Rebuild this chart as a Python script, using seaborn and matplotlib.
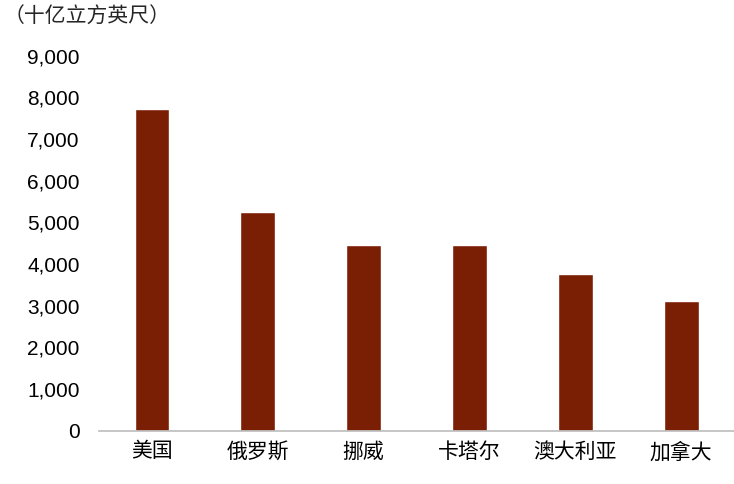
import matplotlib
matplotlib.use("Agg")
import matplotlib.pyplot as plt
import seaborn as sns
from matplotlib.ticker import FuncFormatter

countries = ["美国", "俄罗斯", "挪威", "卡塔尔", "澳大利亚", "加拿大"]
reserves = [7720, 5240, 4450, 4450, 3750, 3120]
unit_label = "（十亿立方英尺）"

sns.set_theme(style="white")
plt.rcParams['font.family'] = ['Liberation Sans', 'Noto Sans CJK SC', 'DejaVu Sans']

fig, ax = plt.subplots(figsize=(7.34, 4.84), dpi=100)
sns.barplot(x=countries, y=reserves, color="#7A1F03", width=0.33, saturation=1, ax=ax)

ax.set_ylim(0, 9000)
ax.set_yticks(range(0, 9001, 1000))
ax.yaxis.set_major_formatter(FuncFormatter(lambda v, p: f"{int(v):,}"))
ax.tick_params(axis="y", labelsize=15, length=0, colors="black", pad=14)
ax.tick_params(axis="x", labelsize=15, length=0, colors="black", pad=8)
for s in ["top", "right", "left"]:
    ax.spines[s].set_visible(False)
ax.spines["bottom"].set_color("#BFBFBF")
ax.set_xlabel("")
ax.set_ylabel("")
fig.text(0.005, 0.965, unit_label, fontsize=15, ha="left", va="center")

plt.subplots_adjust(left=0.135, right=1.0, top=0.885, bottom=0.11)
fig.savefig("out.png", dpi=100)
